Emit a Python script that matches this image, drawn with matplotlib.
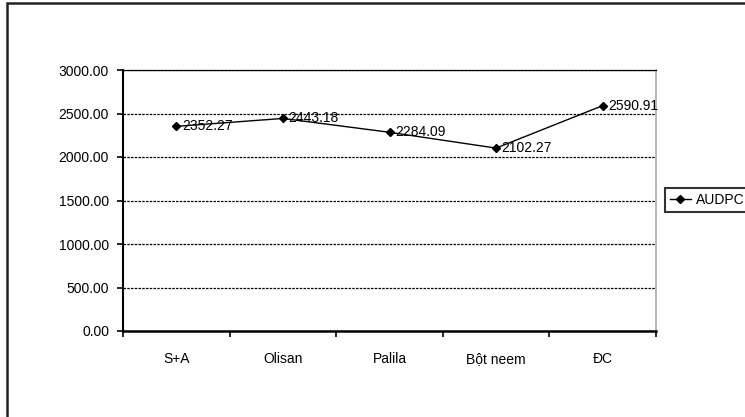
import matplotlib
matplotlib.use("Agg")
import matplotlib.pyplot as plt
from matplotlib.patches import Rectangle
from matplotlib.lines import Line2D

categories = ["S+A", "Olisan", "Palila", "Bột neem", "ĐC"]
audpc = [2352.27, 2443.18, 2284.09, 2102.27, 2590.91]
yticks = [0, 500, 1000, 1500, 2000, 2500, 3000]

plt.rcParams['font.family'] = ['Liberation Sans', 'DejaVu Sans']

W, H = 745, 417
fig = plt.figure(figsize=(W / 100, H / 100), dpi=100)
fig.patch.set_facecolor("white")

# outer chart frame
fig.patches.append(Rectangle((7 / W, -0.05), 1.0, 1 - 3 / H + 0.05,
                             transform=fig.transFigure, fill=False,
                             edgecolor="#222222", linewidth=1.8))

ax = fig.add_axes([123 / W, 1 - 331 / H, (656 - 123) / W, (331 - 70) / H])
x = list(range(len(categories)))
ax.plot(x, audpc, color="black", linewidth=1.0, marker="D", markersize=4,
        label="AUDPC")
for xi, v in zip(x, audpc):
    ax.annotate(f"{v:.2f}", (xi, v), xytext=(4, 0), textcoords="offset points",
                ha="left", va="center", fontsize=10)

ax.set_xlim(-0.5, len(categories) - 0.5)
ax.set_ylim(0, 3000)
ax.set_yticks(yticks)
ax.set_yticklabels([f"{t:.2f}" for t in yticks], fontsize=10)
ax.set_xticks(x)
ax.set_xticklabels(categories, fontsize=10)
ax.set_xticks([i + 0.5 for i in range(-1, len(categories))], minor=True)
ax.tick_params(axis="x", which="major", length=0, pad=15)
ax.tick_params(axis="x", which="minor", length=4, width=1.2, direction="out")
ax.tick_params(axis="y", length=4, width=1.2, direction="out", pad=6)

ax.yaxis.grid(True, linestyle=(0, (2, 1)), color="black", linewidth=0.9)
ax.set_axisbelow(True)
ax.spines["left"].set_linewidth(1.5)
ax.spines["bottom"].set_linewidth(1.8)
ax.spines["top"].set_linestyle((0, (2, 1)))
ax.spines["top"].set_linewidth(0.9)
ax.spines["right"].set_linestyle((0, (1.5, 1)))
ax.spines["right"].set_color("#aaaaaa")
ax.spines["right"].set_linewidth(1.2)

handle = Line2D([], [], color="black", linewidth=1.0, marker="D", markersize=4)
leg = fig.legend([handle], ["AUDPC"], loc="center left",
                 bbox_to_anchor=(665 / W, 1 - 200 / H), fontsize=10,
                 frameon=True, fancybox=False, handlelength=1.5,
                 handletextpad=0.35, borderpad=0.35, borderaxespad=0)
leg.get_frame().set_edgecolor("black")
leg.get_frame().set_linewidth(1.5)

fig.savefig("out.png", dpi=100)
